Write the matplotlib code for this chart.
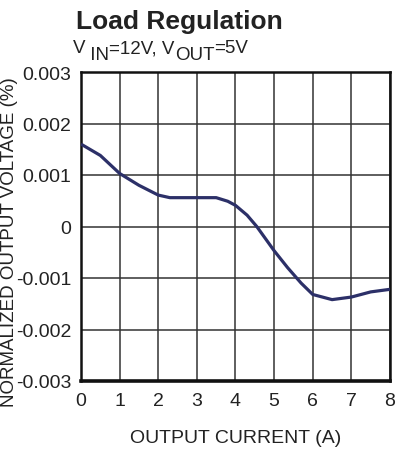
import matplotlib

matplotlib.use("Agg")

import matplotlib.pyplot as plt

# values
current_a = [0.0, 0.5, 1.0, 1.5, 2.0, 2.3, 3.0, 3.5, 3.8, 4.0, 4.3, 4.55, 5.0, 5.35, 5.7, 6.0, 6.5, 7.0, 7.5, 8.0]
norm_voltage = [0.00160, 0.00138, 0.00103, 0.00080, 0.00061, 0.00056, 0.00056, 0.00056, 0.00049,
                0.00041, 0.00022, 0.00000, -0.00047, -0.00080, -0.00110, -0.00132, -0.00142,
                -0.00137, -0.00127, -0.00122]

x_ticks = [0, 1, 2, 3, 4, 5, 6, 7, 8]
y_ticks = [0.003, 0.002, 0.001, 0, -0.001, -0.002, -0.003]
y_tick_labels = ["0.003", "0.002", "0.001", "0", "-0.001", "-0.002", "-0.003"]

plt.rcParams["font.family"] = ["Liberation Sans", "DejaVu Sans"]

W, H = 406, 452
fig = plt.figure(figsize=(W / 100, H / 100), dpi=100)
ax = fig.add_axes([81 / W, 1 - 382 / H, 309 / W, 309 / H])

ax.plot(current_a, norm_voltage, color="#2c3068", linewidth=2.3, solid_capstyle="butt", zorder=3)

ax.set_xlim(0, 8)
ax.set_ylim(-0.003, 0.003)
ax.set_xticks(x_ticks)
ax.set_yticks(y_ticks)
ax.set_yticklabels(y_tick_labels)
ax.grid(True, color="#333333", linewidth=1.1)
ax.tick_params(length=0, labelsize=14, colors="#222222")
ax.tick_params(axis="x", pad=8)
ax.tick_params(axis="y", pad=7)
for spine in ax.spines.values():
    spine.set_linewidth(1.8)
    spine.set_color("#111111")
ax.spines["bottom"].set_linewidth(2.6)

ax.set_xlabel("OUTPUT CURRENT (A)", fontsize=14, color="#222222", labelpad=14)
# the reference crops this label at the left edge; keep it just inside
fig.text(0.5 / W, 1 - 242 / H, "NORMALIZED OUTPUT VOLTAGE (%)", rotation=90,
         ha="left", va="center", fontsize=13.5, color="#222222")

fig.text(76 / W, 1 - 29 / H, "Load Regulation", fontsize=19, fontweight="bold",
         ha="left", va="baseline", color="#222222")

# subtitle with full-size, lowered subscripts
renderer = fig.canvas.get_renderer()
x_px = 73
parts = [("V", 0), (" IN", -6.5), ("=12V, V", 0), ("OUT", -6.5), ("=5V", 0)]
for text, dy in parts:
    t = fig.text(x_px / W, 1 - (53 - dy) / H, text, fontsize=13.5, ha="left",
                 va="baseline", color="#222222")
    x_px += t.get_window_extent(renderer).width

fig.savefig("out.png", dpi=100, facecolor="white")
